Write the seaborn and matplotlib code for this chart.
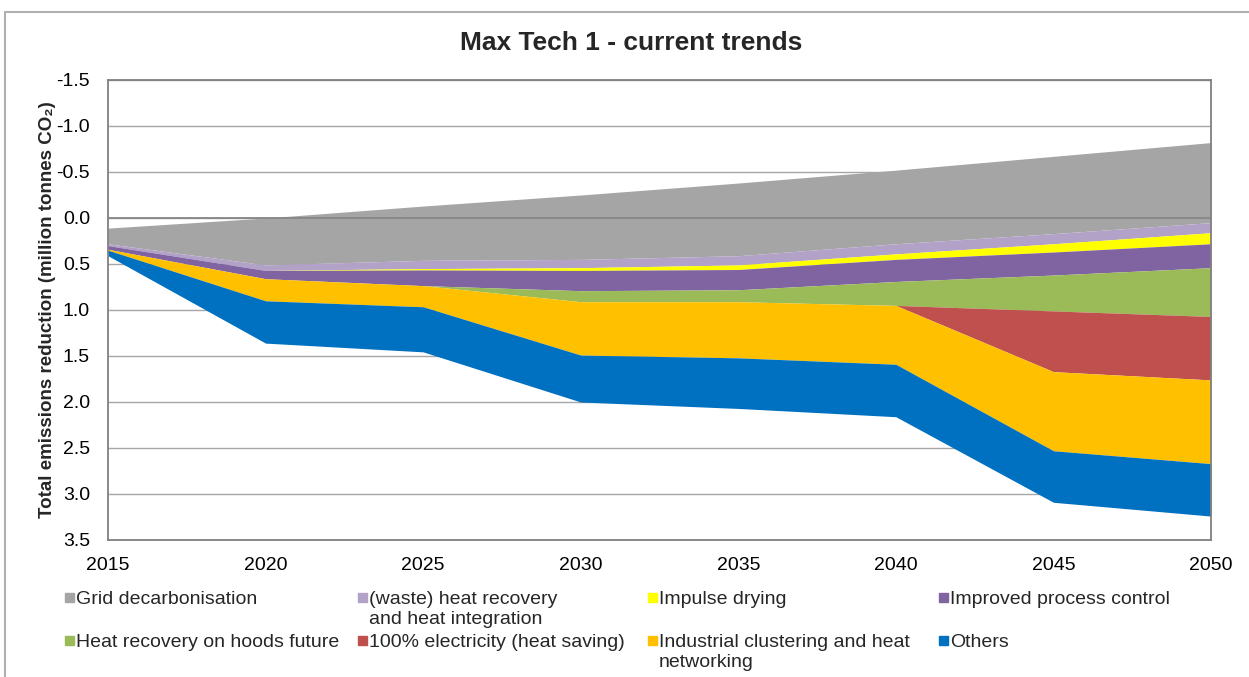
import numpy as np
import matplotlib
matplotlib.use("Agg")
import matplotlib.pyplot as plt
import seaborn as sns

# values (million tonnes CO2, axis drawn reversed)
years = [2015, 2020, 2025, 2030, 2035, 2040, 2045, 2050]
grid_start = [0.11, 0.00, -0.13, -0.25, -0.38, -0.52, -0.67, -0.82]
grid_decarb = [0.17, 0.51, 0.59, 0.70, 0.79, 0.80, 0.84, 0.87]
waste_heat = [0.02, 0.06, 0.09, 0.09, 0.10, 0.11, 0.11, 0.11]
impulse_drying = [0.00, 0.00, 0.015, 0.03, 0.05, 0.06, 0.09, 0.12]
process_control = [0.04, 0.09, 0.17, 0.22, 0.22, 0.24, 0.25, 0.26]
hoods = [0.00, 0.00, 0.00, 0.12, 0.13, 0.26, 0.39, 0.53]
electricity = [0.00, 0.00, 0.00, 0.00, 0.00, 0.00, 0.66, 0.69]
clustering = [0.01, 0.24, 0.23, 0.58, 0.61, 0.64, 0.86, 0.91]
others = [0.06, 0.46, 0.49, 0.51, 0.55, 0.57, 0.56, 0.57]

labels = ["Grid decarbonisation",
          "(waste) heat recovery\nand heat integration",
          "Impulse drying",
          "Improved process control",
          "Heat recovery on hoods future",
          "100% electricity (heat saving)",
          "Industrial clustering and heat\nnetworking",
          "Others"]
colors = ["#A5A5A5", "#B3A2C7", "#FFFF00", "#8064A2",
          "#9BBB59", "#C0504D", "#FFC000", "#0070C0"]

sns.set_style("white")
plt.rcParams['font.family'] = ['Liberation Sans', 'DejaVu Sans']

W, H = 1249, 677
fig = plt.figure(figsize=(W / 100, H / 100), dpi=100)
ax = fig.add_axes([108 / W, 1 - 540 / H, 1103 / W, 460 / H])

series = [grid_decarb, waste_heat, impulse_drying, process_control,
          hoods, electricity, clustering, others]
ax.stackplot(years, grid_start, *series, colors=["none"] + colors,
             linewidth=0, zorder=2)

# category axis crosses at zero and sits on top of the areas
ax.axhline(0, color="#868686", lw=1.3, zorder=3)

ax.set_xlim(2015, 2050)
ax.set_ylim(3.5, -1.5)
ax.set_xticks(years)
ax.set_yticks(np.arange(-1.5, 3.51, 0.5))
ax.yaxis.set_major_formatter(matplotlib.ticker.FormatStrFormatter("%.1f"))
ax.tick_params(axis="both", length=0, labelsize=14, colors="black")
ax.tick_params(axis="y", pad=13)
ax.tick_params(axis="x", pad=12)
ax.grid(axis="y", color="#A6A6A6", lw=1)
ax.set_axisbelow(True)
for sp in ax.spines.values():
    sp.set_visible(True)
    sp.set_color("#808080")
    sp.set_linewidth(1.3)

ax.set_ylabel("Total emissions reduction (million tonnes CO\u2082)",
              fontsize=13.5, fontweight="bold")
ax.yaxis.set_label_coords(-0.047, 0.5)
fig.text(631 / W, 1 - 43 / H, "Max Tech 1 - current trends",
         ha="center", va="center", fontsize=19, fontweight="bold")

# legend, laid out like the Excel one (4 columns, 2 rows)
col_x = [76, 369, 659, 950]
row_y = [597, 640]
for i, (lab, col) in enumerate(zip(labels, colors)):
    r, c = divmod(i, 4)
    x, y = col_x[c], row_y[r]
    fig.patches.append(plt.Rectangle(((x - 11) / W, 1 - (y + 5) / H), 9 / W, 9 / H,
                                     transform=fig.transFigure, color=col))
    fig.text(x / W, 1 - (y - 6) / H, lab, ha="left", va="top",
             fontsize=14, linespacing=1.2)

# outer chart-area border
fig.patches.append(plt.Rectangle((5 / W, -0.1), 1.2, 1.1 - 12 / H,
                                 transform=fig.transFigure, fill=False,
                                 edgecolor="#B0B0B0", lw=1.5))

fig.savefig("out.png", dpi=100)
